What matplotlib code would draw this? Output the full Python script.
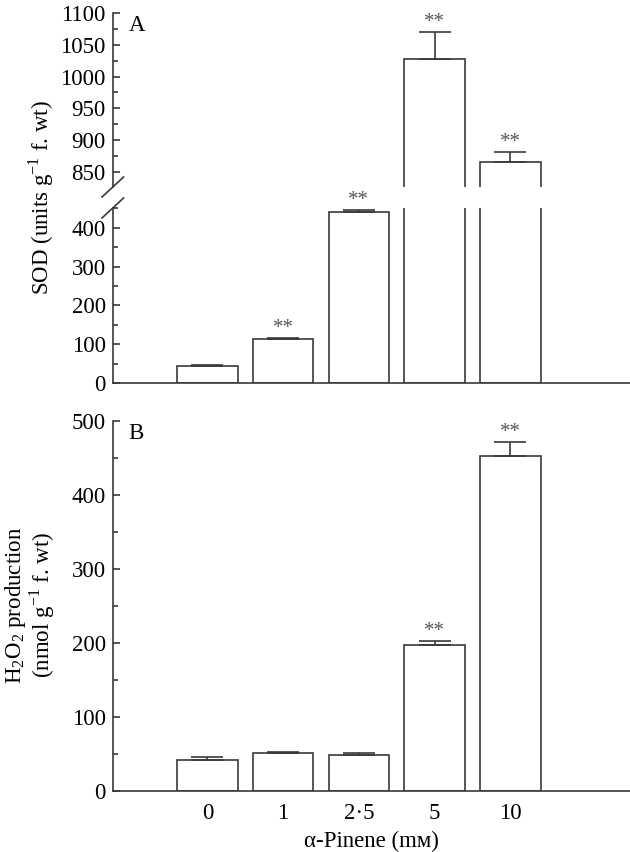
import matplotlib
matplotlib.use("Agg")
import matplotlib.pyplot as plt
from matplotlib.lines import Line2D
from matplotlib.ticker import MultipleLocator

plt.rcParams['font.family'] = ['Liberation Serif', 'DejaVu Serif']
plt.rcParams['mathtext.fontset'] = 'custom'
plt.rcParams['mathtext.rm'] = 'Liberation Serif'
plt.rcParams['font.size'] = 16.5

# data
conc_labels = ['0', '1', '2·5', '5', '10']
sod_mean = [45, 114, 440, 1028, 865]
sod_err = [1.5, 3, 6, 42, 16]
sod_stars = ['', '**', '**', '**', '**']
h2o2_mean = [41, 51, 49, 197, 453]
h2o2_err = [5, 1.5, 2, 6, 19]
h2o2_stars = ['', '', '', '**', '**']

ink = '#3a3a3a'
lw = 1.2
xpos = list(range(len(conc_labels)))
xlim = (-1.25, 5.58)

fig = plt.figure(figsize=(6.3, 8.52), dpi=100)
left, width = 0.179, 0.821
axA_top = fig.add_axes([left, 0.7805, width, 0.2042])
axA_bot = fig.add_axes([left, 0.5505, width, 0.2054])
axB = fig.add_axes([left, 0.0719, width, 0.434])


def draw_bars(ax, mean, err, stars):
    ax.bar(xpos, mean, width=0.8, facecolor='white', edgecolor=ink, linewidth=lw)
    ax.errorbar(xpos, mean, yerr=[[0] * len(err), err], fmt='none', ecolor=ink,
                elinewidth=lw, capsize=11.5, capthick=lw)
    ylo, yhi = ax.get_ylim()
    for x, m, e, s in zip(xpos, mean, err, stars):
        if s and ylo < m + e < yhi:
            ax.annotate(s, (x, m + e), xytext=(0, 0), textcoords='offset points',
                        ha='center', va='bottom', fontsize=15, color='#555555')


def style(ax):
    ax.set_xlim(*xlim)
    ax.spines['top'].set_visible(False)
    ax.spines['right'].set_visible(False)
    for sp in ax.spines.values():
        sp.set_color(ink)
        sp.set_linewidth(lw)
    ax.tick_params(axis='y', which='major', direction='in', length=5, width=lw,
                   color=ink, pad=5)
    ax.tick_params(axis='y', which='minor', direction='in', length=3.5, width=lw,
                   color=ink)
    ax.tick_params(axis='x', length=0)
    ax.set_xticks(xpos)


# panel A, broken axis
axA_top.set_ylim(826, 1100)
axA_bot.set_ylim(0, 451)
draw_bars(axA_top, sod_mean, sod_err, sod_stars)
draw_bars(axA_bot, sod_mean, sod_err, sod_stars)
for ax in (axA_top, axA_bot):
    style(ax)
    ax.set_xticklabels([])
axA_top.set_ylim(826, 1100)
axA_bot.set_ylim(0, 451)
axA_top.spines['bottom'].set_visible(False)
axA_top.set_yticks([850, 900, 950, 1000, 1050, 1100])
axA_top.yaxis.set_minor_locator(MultipleLocator(25))
axA_bot.set_yticks([0, 100, 200, 300, 400])
axA_bot.yaxis.set_minor_locator(MultipleLocator(50))

# break marks on the y axis
dx, dy = 10.8 / 630, 10 / 852
for yc in (0.7805, 0.5505 + 0.2054):
    fig.add_artist(Line2D([left - dx, left + dx], [yc - dy, yc + dy],
                          transform=fig.transFigure, color=ink, lw=lw))

# panel B
axB.set_ylim(0, 500)
draw_bars(axB, h2o2_mean, h2o2_err, h2o2_stars)
style(axB)
axB.set_ylim(0, 500)
axB.set_yticks([0, 100, 200, 300, 400, 500])
axB.yaxis.set_minor_locator(MultipleLocator(50))
axB.set_xticklabels(conc_labels)
axB.tick_params(axis='x', pad=9)
axB.set_xlabel('α-Pinene (mᴍ)', labelpad=5)

# labels
fig.text(41 / 630, 1 - 198 / 852, r'SOD (units g$^{\mathregular{-1}}$ f. wt)',
         rotation=90, ha='center', va='center')
fig.text(30 / 630, 1 - 605 / 852,
         'H$_{\\mathregular{2}}$O$_{\\mathregular{2}}$ production\n'
         '(nmol g$^{\\mathregular{-1}}$ f. wt)',
         rotation=90, ha='center', va='center', multialignment='center',
         linespacing=1.0)
axA_top.text(0.03, 0.99, 'A', transform=axA_top.transAxes, ha='left', va='top')
axB.text(0.03, 0.995, 'B', transform=axB.transAxes, ha='left', va='top')

fig.savefig('out.png', dpi=100)
